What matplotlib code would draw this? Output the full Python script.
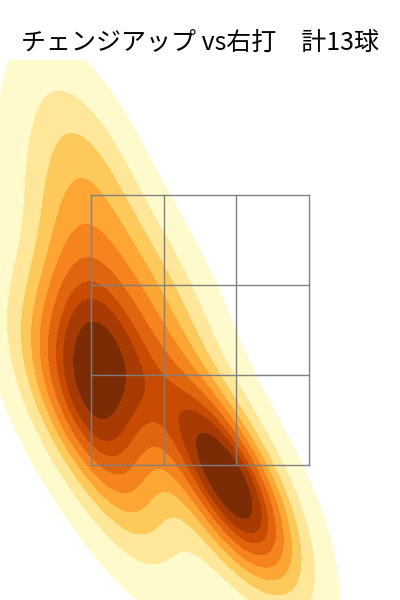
import matplotlib
matplotlib.use("Agg")
import matplotlib.pyplot as plt
import numpy as np
import seaborn as sns

# pitch locations (catcher view, feet)
plate_x = [-0.85, -0.72, -0.85, -0.55, 0.05, 0.25, 0.45, 0.20, -0.95, -0.85, -0.25, -0.55, -1.05]
plate_z = [2.45, 2.25, 1.95, 2.45, 1.65, 1.35, 1.15, 1.25, 3.30, 3.85, 2.75, 1.25, 2.00]

zone_x = [-0.82, 0.82]
zone_z = [1.5, 3.5]
title = "チェンジアップ vs右打　計13球"

plt.rcParams["font.family"] = ["Noto Sans CJK JP", "DejaVu Sans"]

fig = plt.figure(figsize=(4, 6), dpi=100)
ax = fig.add_axes([0, 0, 1, 0.9])

sns.kdeplot(x=plate_x, y=plate_z, fill=True, cmap="YlOrBr", ax=ax)

# strike zone 3x3
xs = np.linspace(zone_x[0], zone_x[1], 4)
zs = np.linspace(zone_z[0], zone_z[1], 4)
for x in xs:
    ax.plot([x, x], zone_z, color="gray", lw=1)
for z in zs:
    ax.plot(zone_x, [z, z], color="gray", lw=1)

ax.set_xlim(-1.5, 1.5)
ax.set_ylim(0.5, 4.5)
ax.axis("off")

fig.text(0.5, 0.928, title, ha="center", va="center", fontsize=18)

fig.savefig("out.png", dpi=100)
